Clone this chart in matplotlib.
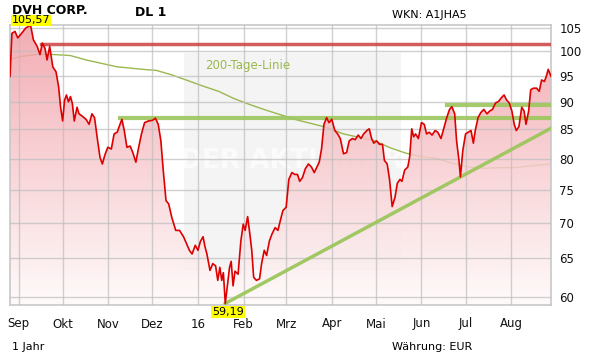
import datetime as dt
import numpy as np
import matplotlib
matplotlib.use("Agg")
import matplotlib.pyplot as plt
from matplotlib.ticker import FixedLocator, FixedFormatter, NullLocator

# days since 2015-09-01 and closing price (EUR)
days = [-5.8, -4.5, -2.4, -0.5, 2.1, 4.8, 8.2, 10.1, 12.7, 14.6, 16.2, 18.0, 19.4, 21.2,
        23.3, 25.5, 27.3, 28.6, 30.0, 31.3, 32.6, 34.0, 35.3, 36.6, 37.9, 39.8, 41.1,
        43.2, 45.9, 48.0, 49.9, 51.7, 53.8, 55.4, 57.0, 58.6, 60.7, 63.1, 65.0, 67.1,
        69.0, 70.3, 71.9, 73.7, 75.9, 77.7, 79.8, 81.7, 83.6, 85.7, 88.3, 91.0, 93.1,
        95.0, 96.8, 98.4, 100.3, 102.1, 104.2, 106.9, 109.5, 112.2, 114.3, 116.2, 118.0,
        120.2, 122.0, 123.6, 125.5, 126.8, 128.1, 130.2, 132.1, 134.0, 135.5, 136.9,
        138.2, 139.3, 140.6, 141.9, 143.5, 144.6, 145.9, 147.2, 149.3, 151.2, 152.8,
        154.1, 155.8, 157.3, 158.6, 159.9, 161.8, 163.9, 165.3, 167.1, 168.7, 170.6,
        172.4, 174.5, 176.4, 178.0, 179.8, 182.0, 183.8, 185.9, 187.8, 189.7, 191.2,
        193.1, 195.0, 197.1, 199.2, 201.1, 202.9, 204.5, 206.1, 207.7, 209.5, 211.1,
        213.0, 215.1, 217.0, 218.8, 221.0, 223.1, 224.9, 227.1, 228.9, 231.0, 232.9,
        234.7, 236.9, 238.5, 240.1, 241.6, 243.5, 245.4, 247.5, 248.8, 250.7, 252.3,
        254.1, 256.0, 257.6, 259.4, 260.7, 262.6, 264.7, 266.0, 267.4, 268.7, 270.0,
        271.9, 274.0, 275.9, 277.5, 279.3, 281.2, 283.3, 285.1, 287.3, 289.1, 291.2,
        293.1, 294.7, 296.6, 297.9, 299.5, 300.5, 302.1, 304.0, 305.8, 307.7, 309.3,
        310.6, 312.5, 314.3, 316.4, 318.6, 320.4, 322.3, 324.4, 326.5, 328.4, 330.2,
        331.8, 333.7, 335.5, 337.1, 338.5, 340.3, 342.2, 343.8, 345.1, 346.9, 348.3,
        350.1, 352.3, 354.1, 355.7, 357.6, 358.9, 360.2, 362.1]
price = [94.9, 103.8, 104.2, 102.8, 103.8, 104.9, 105.57, 102.4, 101.0, 99.3, 101.7, 100.6,
         98.2, 101.0, 96.8, 95.8, 92.8, 89.0, 86.5, 90.3, 91.3, 90.0, 91.0, 89.7, 86.5,
         89.0, 87.8, 87.4, 86.8, 85.9, 87.8, 87.1, 83.0, 80.2, 79.1, 80.5, 81.9, 81.6,
         84.2, 84.5, 85.9, 86.8, 84.8, 81.9, 82.1, 81.0, 79.4, 81.9, 84.2, 86.2, 86.5,
         86.6, 87.0, 85.9, 83.0, 78.1, 73.3, 72.8, 70.8, 68.9, 68.9, 68.0, 67.0, 66.1,
         65.6, 66.8, 66.1, 67.3, 68.0, 66.6, 65.6, 63.4, 64.3, 64.0, 62.1, 63.8, 62.1,
         63.1, 59.19, 61.2, 63.8, 64.6, 61.4, 63.3, 62.9, 67.4, 69.8, 68.9, 70.9, 68.4,
         66.1, 62.5, 62.1, 62.3, 64.3, 66.1, 65.4, 67.4, 68.4, 69.3, 68.9, 70.3, 71.8,
         72.3, 76.6, 77.7, 77.4, 77.4, 76.3, 76.9, 78.3, 79.1, 78.6, 77.7, 78.6, 79.4,
         81.7, 85.9, 87.1, 86.2, 86.8, 84.8, 84.2, 83.4, 80.8, 81.0, 83.0, 83.4, 83.2,
         84.0, 83.4, 84.2, 84.8, 85.1, 83.4, 82.6, 83.0, 82.4, 82.4, 79.7, 79.1, 76.6,
         72.4, 73.8, 76.0, 76.6, 76.3, 78.1, 78.6, 80.3, 85.1, 83.7, 84.2, 83.4, 86.2,
         85.9, 84.2, 84.5, 84.0, 84.8, 84.5, 83.4, 85.1, 87.1, 88.6, 89.1, 87.8, 83.0,
         79.7, 77.0, 81.3, 84.2, 84.5, 84.8, 82.6, 84.8, 87.1, 88.0, 88.6, 87.8, 88.3,
         88.6, 89.8, 90.1, 90.8, 91.3, 90.4, 89.8, 88.3, 85.9, 84.8, 85.5, 89.0, 88.3,
         85.9, 88.3, 92.3, 92.6, 92.6, 92.0, 94.2, 93.9, 94.9, 96.3, 94.9]

# 200-day moving average
ma_days = [-5.8, 3.4, 14.1, 24.7, 35.3, 45.9, 56.5, 67.1, 77.7, 88.3, 93.6, 104.2, 114.9,
           125.5, 136.1, 146.7, 157.3, 167.9, 178.5, 189.1, 199.7, 210.3, 221.0, 231.6,
           242.2, 252.8, 263.4, 274.0, 284.6, 295.2, 305.8, 316.4, 327.1, 337.7, 348.3, 362.1]
ma200 = [98.4, 99.0, 99.4, 99.3, 99.1, 98.2, 97.5, 96.8, 96.5, 96.2, 96.1, 95.2, 94.1,
         93.0, 92.0, 90.6, 89.5, 88.5, 87.6, 86.7, 86.0, 85.3, 84.2, 83.6, 83.0, 81.8,
         80.9, 80.3, 80.0, 79.2, 78.6, 78.4, 78.5, 78.5, 78.8, 79.1]

# drawn levels: (start day, price)
red_level = (15.6, 101.6)
green_levels = [(69.0, 87.0), (291.5, 89.4)]
trend_days = [140.6, 362.1]
trend_price = [59.19, 85.2]

month_labels = ["Sep", "Okt", "Nov", "Dez", "16", "Feb", "Mrz", "Apr", "Mai", "Jun", "Jul", "Aug"]
y_ticks = [60, 65, 70, 75, 80, 85, 90, 95, 100, 105]

W, H = 611, 364
fig = plt.figure(figsize=(W / 100, H / 100), dpi=100)
ax = fig.add_axes([10 / W, 59 / H, 541 / W, 280 / H])
ax.set_yscale("log")
x0, x1 = -5.8, 362.1
y0, y1 = 59.0, 105.6

# grey watermark panel
ax.add_patch(plt.Rectangle((0.321, 0.125), 0.402, 0.775, transform=ax.transAxes,
                           facecolor="#f4f4f4", edgecolor="none", zorder=0))
ax.text(0.52, 0.515, "DER AKTIONÄR", transform=ax.transAxes, ha="center", va="center",
        fontsize=19, fontweight="bold", color="white", alpha=0.7, zorder=0.5)

# 200 day line below the fill
ax.plot(ma_days, ma200, color="#9ab84e", lw=1, zorder=1)

# gradient fill under price
poly = ax.fill_between(days, price, 50, color="none", lw=0)
grad = np.linspace(0, 1, 256)[:, None]
top = np.array([241, 158, 166]) / 255
bot = np.array([255, 250, 250]) / 255
rgb = top[None, None, :] * (1 - grad[:, :, None]) + bot[None, None, :] * grad[:, :, None]
img = ax.imshow(rgb, extent=[0, 1, 0, 1], transform=ax.transAxes, aspect="auto",
                zorder=2, alpha=0.85)
img.set_clip_path(poly.get_paths()[0], transform=ax.transData)

for t in y_ticks:
    ax.axhline(t, color="#bdbdbd", lw=1, alpha=0.7, zorder=3)

month_pos = []
for i in range(12):
    m = (8 + i) % 12 + 1
    yr = 2015 if i < 4 else 2016
    month_pos.append((dt.date(yr, m, 1) - dt.date(2015, 9, 1)).days)
for p in month_pos:
    ax.axvline(p, color="#bdbdbd", lw=1, alpha=0.7, zorder=3)

# levels and trend
ax.plot([red_level[0], x1], [red_level[1]] * 2, color="#cc4040", lw=2.5, alpha=0.85, zorder=4)
for d, lv in green_levels:
    ax.plot([d, x1], [lv, lv], color="#9cc65c", lw=3, alpha=0.9, zorder=4)
ax.plot(trend_days, trend_price, color="#9cc65c", lw=2.5, alpha=0.95, zorder=4)

ax.plot(days, price, color="#dd0000", lw=1.2, zorder=5)

ax.set_xlim(x0, x1)
ax.set_ylim(y0, y1)

ax.yaxis.set_major_locator(FixedLocator(y_ticks))
ax.yaxis.set_major_formatter(FixedFormatter([str(t) for t in y_ticks]))
ax.yaxis.set_minor_locator(NullLocator())
ax.yaxis.tick_right()
ax.tick_params(axis="y", length=0, pad=6, labelsize=8.5, colors="#111111")
ax.set_xticks(month_pos)
ax.set_xticklabels(month_labels)
ax.tick_params(axis="x", length=0, pad=9, labelsize=8.5, colors="#111111")
for s in ax.spines.values():
    s.set_color("#c8c8c8")
    s.set_linewidth(1.2)

ax.text(0.36, 0.857, "200-Tage-Linie", transform=ax.transAxes, fontsize=8.5,
        color="#9ab84e", va="center", zorder=6)


def fx(x):
    return x / W


def fy(y):
    return 1 - y / H


fig.text(fx(12), fy(10), "DVH CORP.", fontsize=9, fontweight="bold", va="center")
fig.text(fx(135), fy(12), "DL 1", fontsize=9, fontweight="bold", va="center")
fig.text(fx(392), fy(15), "WKN: A1JHA5", fontsize=8, va="center")
fig.text(fx(12), fy(347), "1 Jahr", fontsize=8, va="center")
fig.text(fx(392), fy(347), "Währung: EUR", fontsize=8, va="center")

fig.text(fx(12), fy(20.5), "105,57", fontsize=8, va="center", zorder=10,
         bbox=dict(facecolor="#ffff00", edgecolor="none", pad=0.6))
fig.text(fx(212), fy(312), "59,19", fontsize=8, va="center", zorder=10,
         bbox=dict(facecolor="#ffff00", edgecolor="none", pad=0.6))

fig.savefig("out.png", dpi=100)
